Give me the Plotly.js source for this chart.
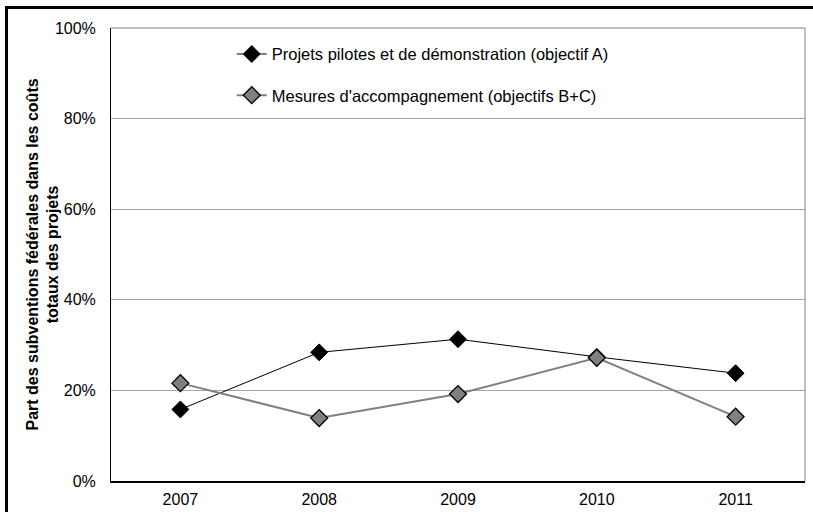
<!DOCTYPE html>
<html>
<head>
<meta charset="utf-8">
<script src="https://cdn.plot.ly/plotly-3.0.1.min.js"></script>
<style>
html,body{margin:0;padding:0;background:#fff;}
#wrap{position:relative;width:813px;height:512px;overflow:hidden;}
#chart{width:813px;height:512px;}
#frame{position:absolute;left:5px;top:6px;width:900px;height:600px;border-top:3px solid #000;border-left:3px solid #000;pointer-events:none;}
</style>
</head>
<body>
<div id="wrap"><div id="chart"></div><div id="frame"></div></div>
<script>
const years = ['2007', '2008', '2009', '2010', '2011'];
const seriesNames = ['Projets pilotes et de démonstration (objectif A)', "Mesures d'accompagnement (objectifs B+C)"];
const pilotes = [0.158, 0.284, 0.313, 0.274, 0.238];
const mesures = [0.216, 0.139, 0.192, 0.272, 0.142];
const yTicks = [0, 0.2, 0.4, 0.6, 0.8, 1.0];
const yTickLabels = ['0%', '20%', '40%', '60%', '80%', '100%'];
const yTitle = 'Part des subventions fédérales dans les coûts<br>totaux des projets';

const font = 'Liberation Sans, Arial, sans-serif';

const traces = [
  {
    x: years, y: pilotes, name: seriesNames[0], type: 'scatter', mode: 'lines+markers',
    line: {color: '#000000', width: 1},
    marker: {symbol: 'diamond', size: 13, color: '#000000', line: {color: '#000000', width: 1}},
    legend: 'legend'
  },
  {
    x: years, y: mesures, name: seriesNames[1], type: 'scatter', mode: 'lines+markers',
    line: {color: '#808080', width: 2},
    marker: {symbol: 'diamond', size: 13, color: '#808080', line: {color: '#000000', width: 1.3}},
    legend: 'legend2'
  }
];

const legendCommon = {
  bgcolor: 'rgba(0,0,0,0)', borderwidth: 0,
  font: {family: font, size: 16.5, color: '#000'},
  xanchor: 'left', yanchor: 'middle', itemwidth: 30
};

const layout = {
  width: 813, height: 512,
  margin: {l: 111, r: 8, t: 28, b: 31},
  paper_bgcolor: '#ffffff', plot_bgcolor: '#ffffff',
  font: {family: font, size: 16, color: '#000'},
  showlegend: true,
  legend: Object.assign({}, legendCommon, {x: 0.174, y: 0.942}),
  legend2: Object.assign({}, legendCommon, {x: 0.174, y: 0.851}),
  xaxis: {
    type: 'category', range: [-0.5, 4.5],
    showline: true, linecolor: '#000', linewidth: 1.5,
    showgrid: false, zeroline: false, ticks: '',
    ticklabelstandoff: 3,
    tickfont: {family: font, size: 16, color: '#000'},
    fixedrange: true
  },
  yaxis: {
    range: [0, 1], tickvals: yTicks, ticktext: yTickLabels,
    showline: true, linecolor: '#000', linewidth: 1,
    showgrid: true, gridcolor: '#a6a6a6', gridwidth: 1,
    zeroline: false, ticks: '',
    ticklabelstandoff: 11,
    tickfont: {family: font, size: 16, color: '#000'},
    fixedrange: true
  },
  annotations: [
    {text: yTitle, xref: 'paper', yref: 'paper', x: 0, y: 0.5, xshift: -69,
     xanchor: 'center', yanchor: 'middle', textangle: -90, showarrow: false,
     font: {family: font, size: 16, color: '#000', weight: 'bold'}}
  ],
  shapes: [
    {type: 'line', xref: 'paper', yref: 'paper', x0: 0, x1: 1, y0: 1, y1: 1, line: {color: '#808080', width: 1}},
    {type: 'line', xref: 'paper', yref: 'paper', x0: 1, x1: 1, y0: 0, y1: 1, line: {color: '#808080', width: 1}}
  ]
};

Plotly.newPlot('chart', traces, layout, {displayModeBar: false, staticPlot: true});
</script>
</body>
</html>
